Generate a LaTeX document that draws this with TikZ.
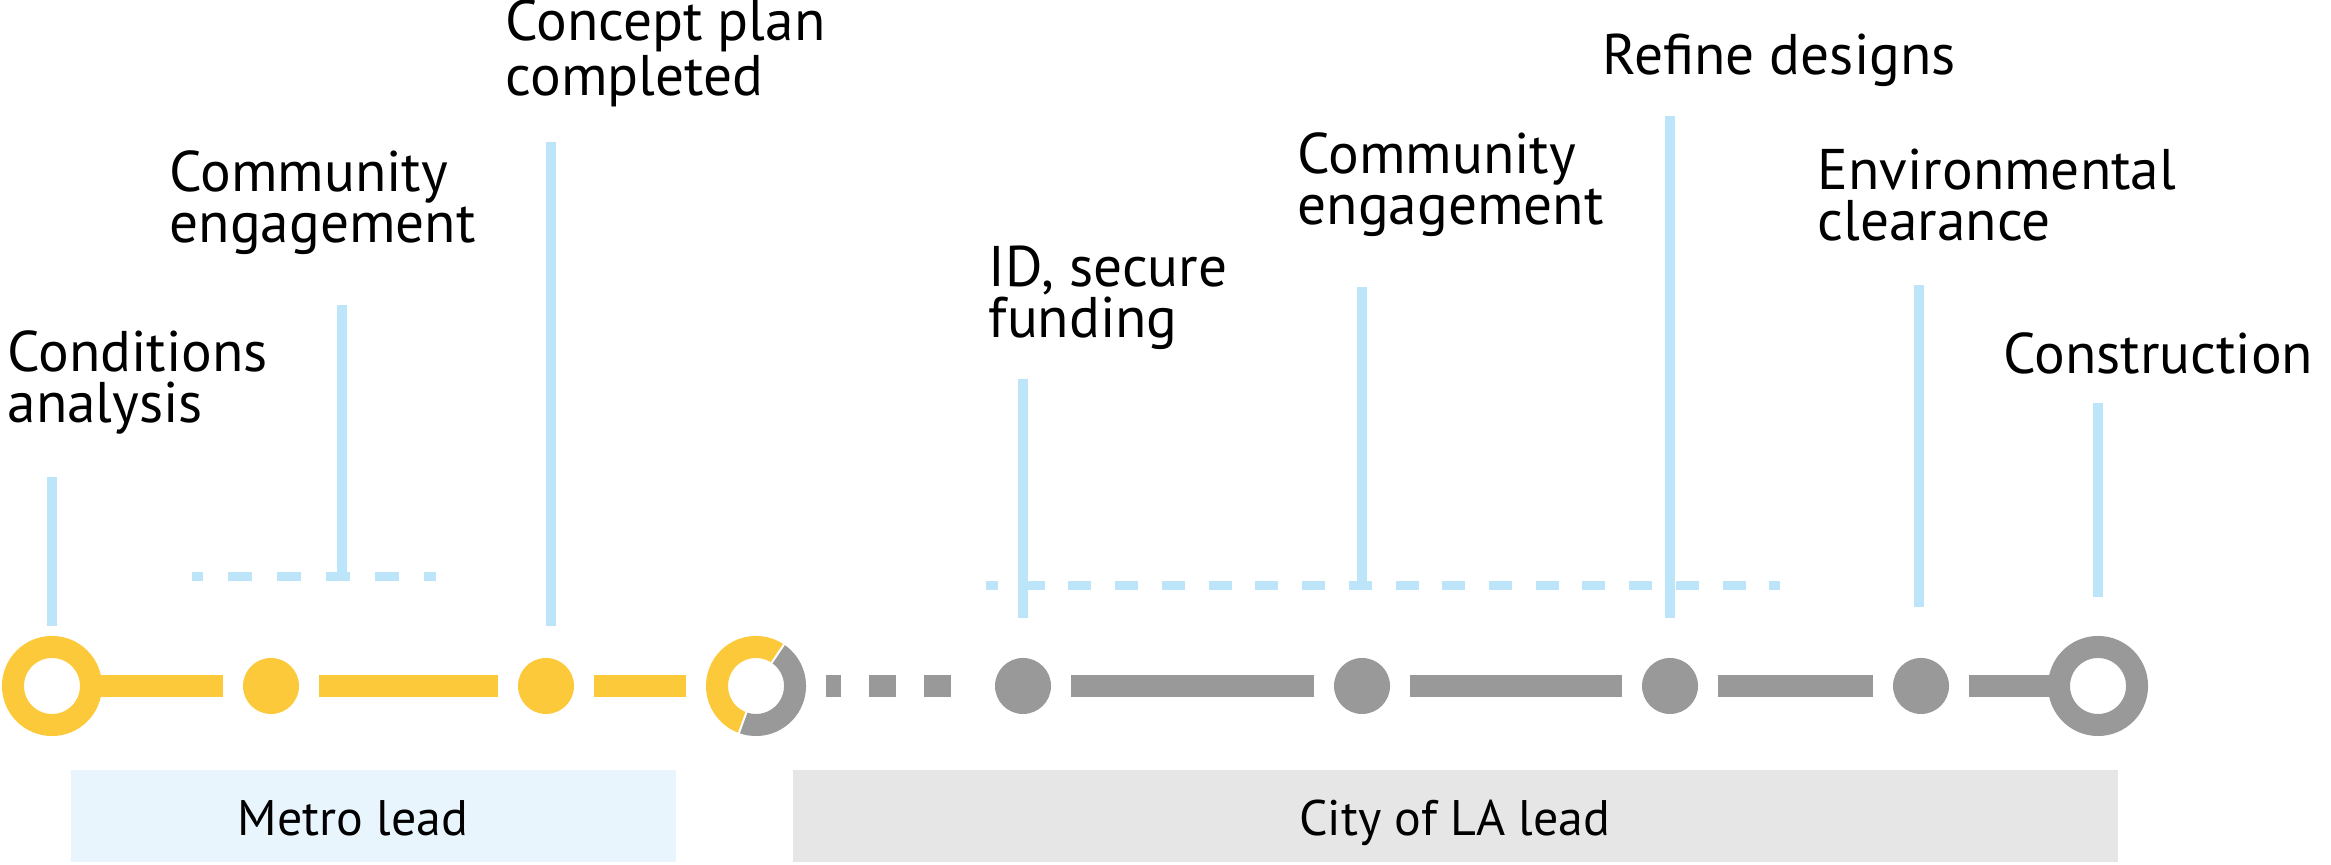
\documentclass[tikz,border=0pt]{standalone}
\usepackage{fontspec}
\setmainfont{PT Sans}
\usetikzlibrary{calc}
\definecolor{metroyellow}{HTML}{FCC93A}
\definecolor{citygray}{HTML}{999999}
\definecolor{leaderblue}{HTML}{BDE5F9}
\definecolor{metrofill}{HTML}{E8F5FD}
\definecolor{cityfill}{HTML}{E6E6E6}
\tikzset{
  stopdot/.style={circle, fill=#1, minimum size=0.56cm, inner sep=0pt, outer sep=0.2cm},
  stopring/.style={circle, draw=#1, line width=0.22cm, minimum size=0.78cm, inner sep=0pt, outer sep=0.05cm},
  track/.style={#1, line width=0.22cm},
  leader/.style={leaderblue, line width=0.095cm},
  leaderdash/.style={leaderblue, line width=0.09cm},
  lbl/.style={anchor=base west, align=left, inner sep=0pt, font=\fontsize{16.3pt}{14.5pt}\selectfont},
  leadlbl/.style={anchor=base, inner sep=0pt, font=\fontsize{14.2pt}{16pt}\selectfont}
}

\begin{document}
\begin{tikzpicture}[x=0.01cm, y=0.01cm]
		%%%%% START %%%%%
		\useasboundingbox (0,0) rectangle (2331,865);
		
		\fill[metrofill] (71,3) rectangle (676,95);
		\fill[cityfill] (793,3) rectangle (2118,95);
		\node[leadlbl] (metrolead) at (353,29) {Metro lead};
		\node[leadlbl] (citylead) at (1455,29) {City of LA lead};
		
		\node[stopring=metroyellow] (s1) at (52,179) {};
		\node[stopdot=metroyellow] (s2) at (271,179) {};
		\node[stopdot=metroyellow] (s3) at (546,179) {};
		\node[circle, minimum size=0.78cm, inner sep=0pt, outer sep=0.31cm] (s4) at (756,179) {};
		\node[stopdot=citygray] (s5) at (1023,179) {};
		\node[stopdot=citygray] (s6) at (1362,179) {};
		\node[stopdot=citygray] (s7) at (1670,179) {};
		\node[stopdot=citygray] (s8) at (1921,179) {};
		\node[stopring=citygray] (s9) at (2098,179) {};
		
		\draw[metroyellow, line width=0.22cm] (s4.center) ++(56:0.39cm) arc[start angle=56, end angle=250, radius=0.39cm];
		\draw[citygray, line width=0.22cm] (s4.center) ++(250:0.39cm) arc[start angle=250, end angle=416, radius=0.39cm];
		\draw[white, line width=0.02cm] (s4.center) ++(56:0.27cm) -- ++(56:0.24cm);
		\draw[white, line width=0.02cm] (s4.center) ++(250:0.27cm) -- ++(250:0.24cm);
		
		\draw[track=metroyellow] (s1) -- (s2);
		\draw[track=metroyellow] (s2) -- (s3);
		\draw[track=metroyellow] (s3) -- (s4);
		\draw[track=citygray, dash pattern=on 0.27cm off 0.28cm, dash phase=0.12cm] (s4) -- (s5);
		\draw[track=citygray] (s5) -- (s6);
		\draw[track=citygray] (s6) -- (s7);
		\draw[track=citygray] (s7) -- (s8);
		\draw[track=citygray] (s8) -- (s9);
		
		\coordinate (d1a) at (192,288);
		\coordinate (d1b) at (436,288);
		\coordinate (d2a) at (986,279);
		\coordinate (d2b) at (1780,279);
		\draw[leaderdash, dash pattern=on 0.24cm off 0.25cm, dash phase=0.13cm] (d1a) -- (d1b);
		\draw[leaderdash, dash pattern=on 0.23cm off 0.237cm, dash phase=0.11cm] (d2a) -- (d2b);
		
		\draw[leader] ($(s1)+(0,60)$) -- ($(s1)+(0,209)$);
		\draw[leader] (342,283.5) -- (342,560);
		\draw[leader] ($(s3)+(5,60)$) -- ($(s3)+(5,544)$);
		\draw[leader] ($(s5)+(0,68)$) -- ($(s5)+(0,307)$);
		\draw[leader] ($(s6)+(0,95.5)$) -- ($(s6)+(0,399)$);
		\draw[leader] ($(s7)+(0,68)$) -- ($(s7)+(0,570)$);
		\draw[leader] ($(s8)+(-2,79)$) -- ($(s8)+(-2,401)$);
		\draw[leader] ($(s9)+(0,89)$) -- ($(s9)+(0,283)$);
		
		% base anchor sits on the last line
		\node[lbl] (t1) at (7,442) {Conditions\\analysis};
		\node[lbl] (t2) at (169,622) {Community\\engagement};
		\node[lbl] (t3) at (505,769) {Concept plan\\completed};
		\node[lbl] (t4) at (988,527) {ID, secure\\funding};
		\node[lbl] (t5) at (1297,640) {Community\\engagement};
		\node[lbl] (t6) at (1602,790) {Refine designs};
		\node[lbl] (t7) at (1817,624) {Environmental\\clearance};
		\node[lbl] (t8) at (2003,491) {Construction};
		%%%%% END %%%%%
\end{tikzpicture}
\end{document}
